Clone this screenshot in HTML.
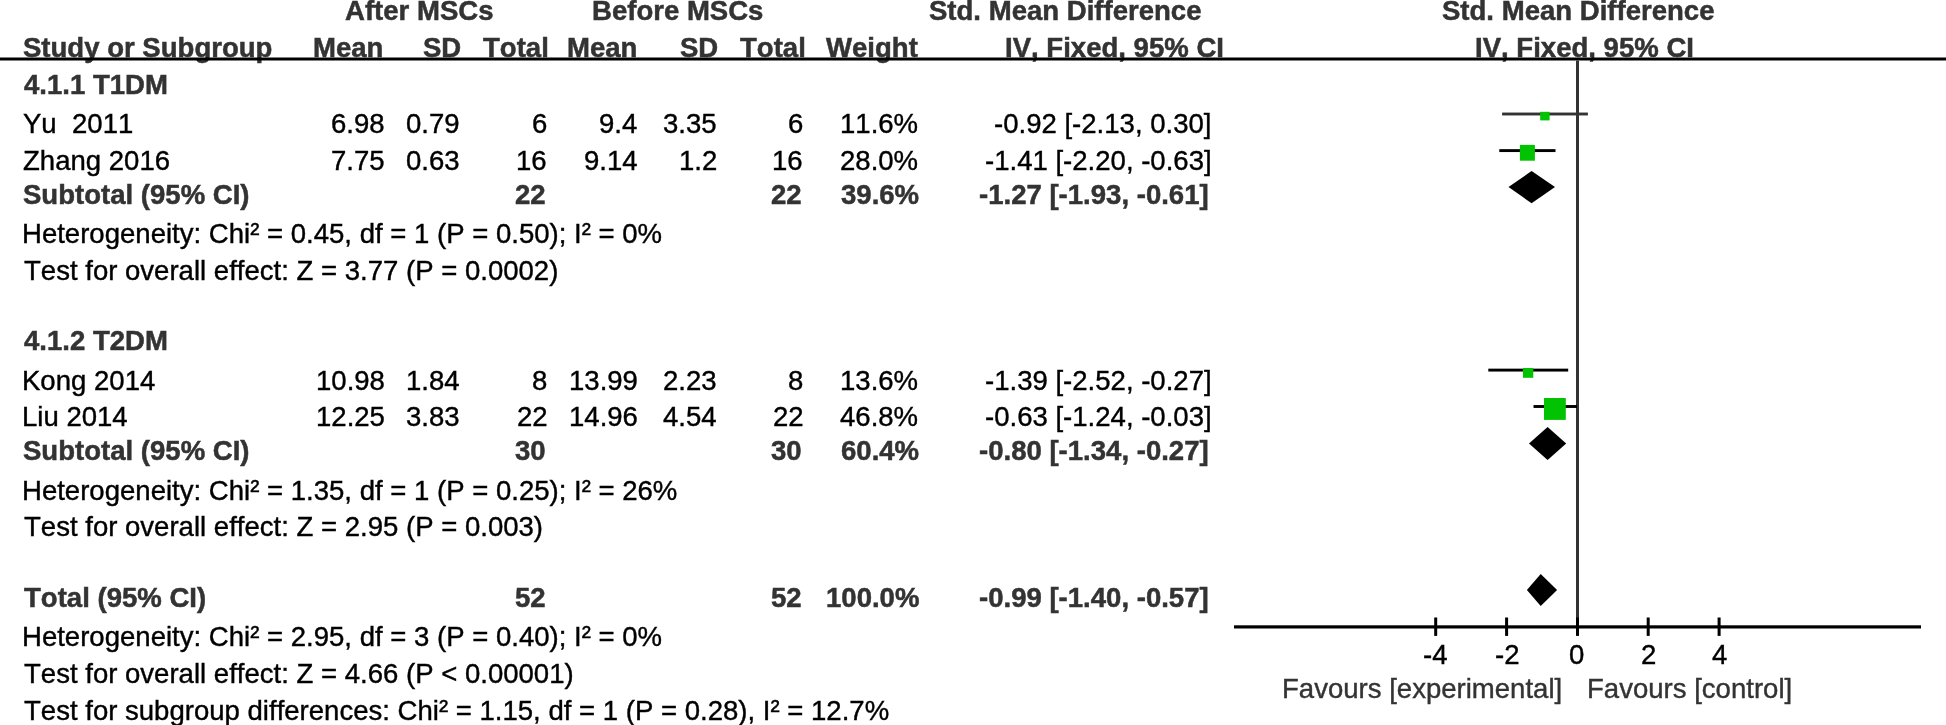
<!DOCTYPE html>
<html><head><meta charset="utf-8"><title>Forest plot</title>
<style>
html,body{margin:0;padding:0;background:#fff}
body{width:1946px;height:725px;position:relative;overflow:hidden}
svg{position:absolute;left:0;top:0}
body{margin:0;background:#fff} div{position:absolute;font-family:'Liberation Sans', Arial, sans-serif;font-size:27.55px;line-height:32px;white-space:pre;font-kerning:none;color:#000;transform:scaleY(1.03);transform-origin:0 25px;will-change:transform;-webkit-text-stroke:0.4px currentColor} div.b{font-weight:bold;-webkit-text-stroke:0.5px currentColor}
.r{color:#000}
.b{color:#333}
</style></head><body>
<div class="b" style="left:345.0px;top:-5.2px">After MSCs</div>
<div class="b" style="left:592.0px;top:-5.2px">Before MSCs</div>
<div class="b" style="left:929.4px;top:-5.2px">Std. Mean Difference</div>
<div class="b" style="left:1442.0px;top:-5.2px">Std. Mean Difference</div>
<div class="b" style="left:22.5px;top:31.5px">Study or Subgroup</div>
<div class="b" style="left:313.0px;top:31.5px">Mean</div>
<div class="b" style="left:423.4px;top:31.5px">SD</div>
<div class="b" style="left:482.7px;top:31.5px">Total</div>
<div class="b" style="left:567.2px;top:31.5px">Mean</div>
<div class="b" style="left:679.8px;top:31.5px">SD</div>
<div class="b" style="left:739.5px;top:31.5px">Total</div>
<div class="b" style="left:825.8px;top:31.5px">Weight</div>
<div class="b" style="left:1004.7px;top:31.5px">IV, Fixed, 95% CI</div>
<div class="b" style="left:1474.9px;top:31.5px">IV, Fixed, 95% CI</div>
<div class="b" style="left:23.5px;top:68.5px">4.1.1 T1DM</div>
<div class="r" style="left:22.5px;top:108.1px">Yu  2011</div>
<div class="r" style="left:330.6px;top:108.1px">6.98</div>
<div class="r" style="left:406.3px;top:108.1px">0.79</div>
<div class="r" style="left:532.0px;top:108.1px">6</div>
<div class="r" style="left:599.2px;top:108.1px">9.4</div>
<div class="r" style="left:663.0px;top:108.1px">3.35</div>
<div class="r" style="left:788.3px;top:108.1px">6</div>
<div class="r" style="left:839.5px;top:108.1px">11.6%</div>
<div class="r" style="left:994.4px;top:108.1px">-0.92 [-2.13, 0.30]</div>
<div class="r" style="left:22.5px;top:145.1px">Zhang 2016</div>
<div class="r" style="left:330.6px;top:145.1px">7.75</div>
<div class="r" style="left:406.3px;top:145.1px">0.63</div>
<div class="r" style="left:516.0px;top:145.1px">16</div>
<div class="r" style="left:584.2px;top:145.1px">9.14</div>
<div class="r" style="left:679.0px;top:145.1px">1.2</div>
<div class="r" style="left:772.3px;top:145.1px">16</div>
<div class="r" style="left:839.5px;top:145.1px">28.0%</div>
<div class="r" style="left:985.4px;top:145.1px">-1.41 [-2.20, -0.63]</div>
<div class="b" style="left:22.5px;top:178.7px">Subtotal (95% CI)</div>
<div class="b" style="left:514.8px;top:178.7px">22</div>
<div class="b" style="left:771.2px;top:178.7px">22</div>
<div class="b" style="left:840.9px;top:178.7px">39.6%</div>
<div class="b" style="left:978.8px;top:178.7px">-1.27 [-1.93, -0.61]</div>
<div class="r" style="left:21.5px;top:218.2px">Heterogeneity: Chi² = 0.45, df = 1 (P = 0.50); I² = 0%</div>
<div class="r" style="left:23.5px;top:254.7px">Test for overall effect: Z = 3.77 (P = 0.0002)</div>
<div class="b" style="left:23.5px;top:324.7px">4.1.2 T2DM</div>
<div class="r" style="left:21.5px;top:364.7px">Kong 2014</div>
<div class="r" style="left:315.6px;top:364.7px">10.98</div>
<div class="r" style="left:406.3px;top:364.7px">1.84</div>
<div class="r" style="left:532.0px;top:364.7px">8</div>
<div class="r" style="left:569.2px;top:364.7px">13.99</div>
<div class="r" style="left:663.0px;top:364.7px">2.23</div>
<div class="r" style="left:788.3px;top:364.7px">8</div>
<div class="r" style="left:839.5px;top:364.7px">13.6%</div>
<div class="r" style="left:985.4px;top:364.7px">-1.39 [-2.52, -0.27]</div>
<div class="r" style="left:21.5px;top:400.9px">Liu 2014</div>
<div class="r" style="left:315.6px;top:400.9px">12.25</div>
<div class="r" style="left:406.3px;top:400.9px">3.83</div>
<div class="r" style="left:517.0px;top:400.9px">22</div>
<div class="r" style="left:569.2px;top:400.9px">14.96</div>
<div class="r" style="left:663.0px;top:400.9px">4.54</div>
<div class="r" style="left:773.3px;top:400.9px">22</div>
<div class="r" style="left:839.5px;top:400.9px">46.8%</div>
<div class="r" style="left:985.4px;top:400.9px">-0.63 [-1.24, -0.03]</div>
<div class="b" style="left:22.5px;top:434.6px">Subtotal (95% CI)</div>
<div class="b" style="left:514.8px;top:434.6px">30</div>
<div class="b" style="left:771.2px;top:434.6px">30</div>
<div class="b" style="left:840.9px;top:434.6px">60.4%</div>
<div class="b" style="left:978.8px;top:434.6px">-0.80 [-1.34, -0.27]</div>
<div class="r" style="left:21.5px;top:475.0px">Heterogeneity: Chi² = 1.35, df = 1 (P = 0.25); I² = 26%</div>
<div class="r" style="left:23.5px;top:511.1px">Test for overall effect: Z = 2.95 (P = 0.003)</div>
<div class="b" style="left:23.5px;top:581.6px">Total (95% CI)</div>
<div class="b" style="left:514.8px;top:581.6px">52</div>
<div class="b" style="left:771.2px;top:581.6px">52</div>
<div class="b" style="left:825.9px;top:581.6px">100.0%</div>
<div class="b" style="left:978.8px;top:581.6px">-0.99 [-1.40, -0.57]</div>
<div class="r" style="left:21.5px;top:620.9px">Heterogeneity: Chi² = 2.95, df = 3 (P = 0.40); I² = 0%</div>
<div class="r" style="left:23.5px;top:657.8px">Test for overall effect: Z = 4.66 (P &lt; 0.00001)</div>
<div class="r" style="left:23.5px;top:694.5px">Test for subgroup differences: Chi² = 1.15, df = 1 (P = 0.28), I² = 12.7%</div>
<div class="r" style="left:1423.2px;top:639.0px">-4</div>
<div class="r" style="left:1494.6px;top:639.0px">-2</div>
<div class="r" style="left:1569.3px;top:639.0px">0</div>
<div class="r" style="left:1640.7px;top:639.0px">2</div>
<div class="r" style="left:1711.6px;top:639.0px">4</div>
<div class="r" style="left:1281.9px;top:673.0px;color:#333333">Favours [experimental]</div>
<div class="r" style="left:1587.4px;top:673.0px;color:#333333">Favours [control]</div>
<svg width="1946" height="725" viewBox="0 0 1946 725">
<rect x="0" y="57.5" width="1946" height="3.0" fill="#000"/>
<rect x="1576" y="60.5" width="3" height="564.8" fill="#333"/>
<rect x="1234" y="625.3" width="687" height="3.2" fill="#000"/>
<rect x="1434.2" y="617.5" width="3.0" height="18.4" fill="#000"/>
<rect x="1505.1" y="617.5" width="3.0" height="18.4" fill="#000"/>
<rect x="1576.0" y="617.5" width="3.0" height="18.4" fill="#000"/>
<rect x="1646.7" y="617.5" width="3.0" height="18.4" fill="#000"/>
<rect x="1717.6" y="617.5" width="3.0" height="18.4" fill="#000"/>
<rect x="1502.1" y="112.55" width="85.8" height="2.9" fill="#333"/>
<rect x="1499.3" y="149.15" width="56.2" height="2.9" fill="#000"/>
<rect x="1488.3" y="368.65" width="79.9" height="2.9" fill="#000"/>
<rect x="1533.5" y="405.05" width="43.5" height="2.9" fill="#000"/>
<rect x="1540.2" y="111.8" width="9.4" height="8.6" fill="#02c302"/>
<rect x="1519.9" y="144.9" width="15.0" height="15.8" fill="#02c302"/>
<rect x="1523" y="368" width="10.3" height="9.8" fill="#02c302"/>
<rect x="1544" y="398" width="21.8" height="21.9" fill="#02c302"/>
<polygon points="1508.5,187.1 1531.6,171 1555,187.1 1531.6,203.3" fill="#000"/>
<polygon points="1529,443.4 1547.6,427 1566.2,443.4 1547.6,459.9" fill="#000"/>
<polygon points="1526.9,590 1540.7,573.9 1557.1,590 1540.7,606.1" fill="#000"/>
</svg>
</body></html>
